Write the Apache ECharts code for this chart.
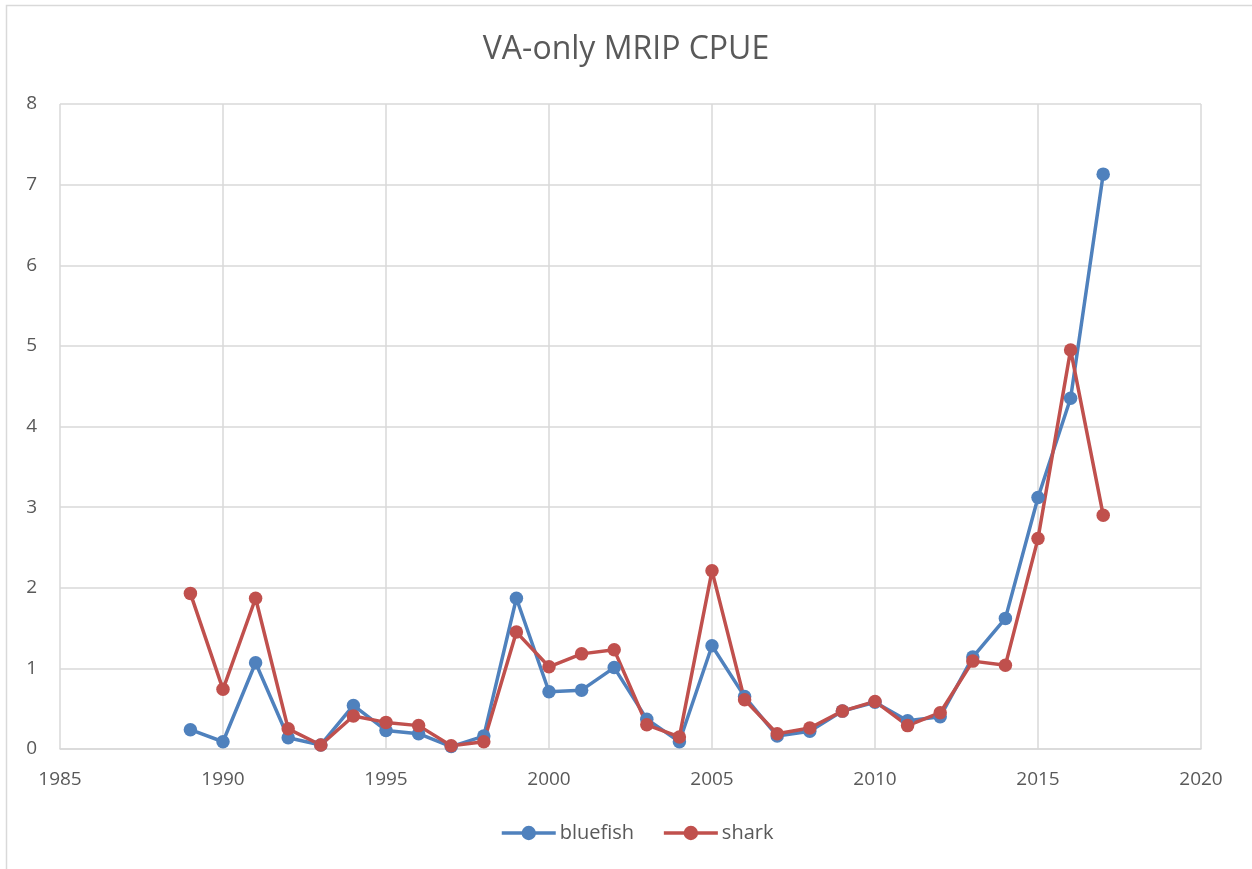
<!DOCTYPE html>
<html>
<head>
<meta charset="utf-8">
<title>VA-only MRIP CPUE</title>
<script src="https://cdn.jsdelivr.net/npm/echarts@6/dist/echarts.min.js"></script>
<style>
  html, body { margin: 0; padding: 0; background: #ffffff; }
  #chart { width: 1252px; height: 869px; }
</style>
</head>
<body>
<div id="chart"></div>
<script>
// Survey years
const years = [1989, 1990, 1991, 1992, 1993, 1994, 1995, 1996, 1997, 1998,
  1999, 2000, 2001, 2002, 2003, 2004, 2005, 2006, 2007, 2008,
  2009, 2010, 2011, 2012, 2013, 2014, 2015, 2016, 2017];

// Catch per unit effort, Virginia only
const bluefish = [0.24, 0.09, 1.07, 0.14, 0.05, 0.54, 0.23, 0.19, 0.03, 0.16,
  1.87, 0.71, 0.73, 1.01, 0.37, 0.09, 1.28, 0.65, 0.16, 0.22,
  0.47, 0.58, 0.35, 0.40, 1.14, 1.62, 3.12, 4.35, 7.13];
const shark = [1.93, 0.74, 1.87, 0.25, 0.05, 0.41, 0.33, 0.29, 0.04, 0.09,
  1.45, 1.02, 1.18, 1.23, 0.30, 0.15, 2.21, 0.61, 0.19, 0.26,
  0.47, 0.59, 0.29, 0.45, 1.09, 1.04, 2.61, 4.95, 2.90];

const seriesNames = ['bluefish', 'shark'];
const seriesColors = ['#4f81bd', '#c0504d'];

const textColor = '#595959';
const gridColor = '#d9d9d9';
const fontFamily = "'Open Sans', 'Liberation Sans', sans-serif";

function pairs(values) {
  return years.map((y, i) => [y, values[i]]);
}

const chart = echarts.init(document.getElementById('chart'), null, { renderer: 'canvas' });

chart.setOption({
  backgroundColor: '#ffffff',
  animation: false,
  title: {
    text: 'VA-only MRIP CPUE',
    left: 'center',
    top: 29,
    textStyle: { color: textColor, fontSize: 32, fontWeight: 'normal', fontFamily: fontFamily }
  },
  graphic: [{
    type: 'rect',
    shape: { x: 6.5, y: 5.5, width: 1280, height: 900 },
    style: { fill: 'none', stroke: gridColor, lineWidth: 1.5 },
    silent: true,
    z: -1
  }],
  legend: {
    bottom: 21,
    left: 495,
    itemWidth: 54,
    itemHeight: 18,
    itemGap: 28,
    data: seriesNames,
    lineStyle: { width: 3.5 },
    textStyle: { color: textColor, fontSize: 20, fontFamily: fontFamily, padding: [0, 0, 0, -1] }
  },
  grid: { left: 60, right: 51, top: 104, bottom: 120, containLabel: false },
  xAxis: {
    type: 'value',
    min: 1985,
    max: 2020,
    interval: 5,
    axisLine: { show: true, lineStyle: { color: gridColor, width: 1.5 } },
    axisTick: { show: false },
    splitLine: { show: true, lineStyle: { color: gridColor, width: 1.5 } },
    axisLabel: { color: textColor, fontSize: 19, fontFamily: fontFamily, margin: 21,
      formatter: (v) => String(v) }
  },
  yAxis: {
    type: 'value',
    min: 0,
    max: 8,
    interval: 1,
    axisLine: { show: false },
    axisTick: { show: false },
    splitLine: { show: true, lineStyle: { color: gridColor, width: 1.5 } },
    axisLabel: { color: textColor, fontSize: 19, fontFamily: fontFamily, margin: 23 }
  },
  series: [bluefish, shark].map((vals, i) => ({
    name: seriesNames[i],
    type: 'line',
    data: pairs(vals),
    symbol: 'circle',
    symbolSize: 13.5,
    color: seriesColors[i],
    lineStyle: { width: 3.5, color: seriesColors[i] },
    itemStyle: { color: seriesColors[i] }
  }))
});
</script>
</body>
</html>
